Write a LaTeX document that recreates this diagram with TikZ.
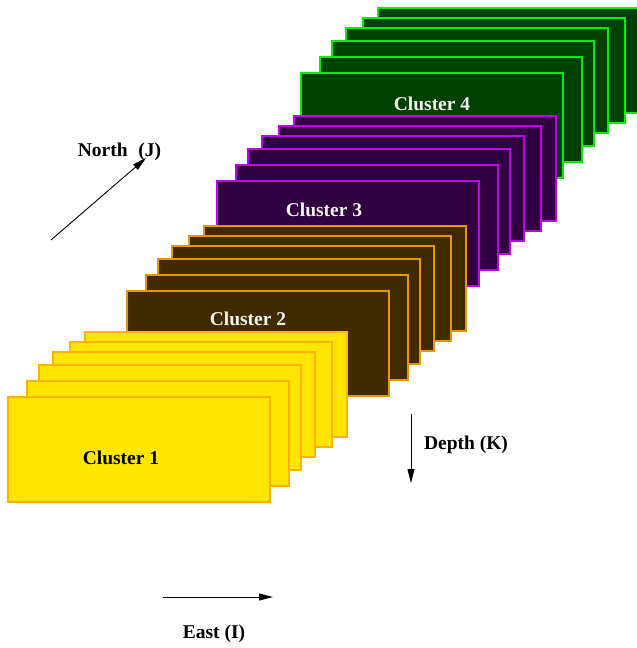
\documentclass[tikz,border=0pt]{standalone}
\usepackage{fontspec}
\setmainfont{Liberation Serif}
\usetikzlibrary{arrows.meta}
\definecolor{c1fill}{RGB}{255,230,0}
\definecolor{c1line}{RGB}{255,178,0}
\definecolor{c2fill}{RGB}{64,42,0}
\definecolor{c2line}{RGB}{235,150,0}
\definecolor{c3fill}{RGB}{48,0,64}
\definecolor{c3line}{RGB}{190,0,240}
\definecolor{c4fill}{RGB}{0,64,0}
\definecolor{c4line}{RGB}{0,240,0}
\definecolor{lbllight}{RGB}{245,245,240}

\begin{document}
\begin{tikzpicture}[x=1pt,y=-1pt,
  sheet/.style={draw, line width=1.5pt, minimum width=262pt, minimum height=105pt,
                anchor=north west, inner sep=0pt, outer sep=0pt},
  lbl/.style={font=\fontsize{19.5}{22}\selectfont\bfseries, inner sep=0pt},
  axis/.style={line width=0.9pt, -{Triangle[length=14pt,width=7pt]}}]
\useasboundingbox (0,0) rectangle (637,648);

% one stack of six sheets per cluster, back sheet first
\begin{scope}
\clip (0,0) rectangle (637,648);
\foreach \cl/\ox/\oy in {4/301/73, 3/217/181, 2/127/291, 1/8/397}{
  \foreach \dx/\dy [count=\k] in {77/-65,62/-55,45/-45,31/-32,19/-16,0/0}{
    \node[sheet, draw=c\cl line, fill=c\cl fill] (c\cl s\k) at ({\ox+\dx},{\oy+\dy}) {};
  }
}
\end{scope}

% cluster names
\node[lbl, text=lbllight] (n4) at (432,104) {Cluster 4};
\node[lbl, text=lbllight] (n3) at (324,210) {Cluster 3};
\node[lbl, text=lbllight] (n2) at (248,319) {Cluster 2};
\node[lbl, text=black]    (n1) at (121,458) {Cluster 1};

% index directions
\coordinate (ns) at (51,240);
\coordinate (ne) at (146,158);
\draw[axis] (ns) -- (ne);
\node[lbl] (north) at (119.5,152) {North\hspace{0.55em}(J)};

\coordinate (es) at (163,597);
\coordinate (ee) at (273,597);
\draw[axis] (es) -- (ee);
\node[lbl] (east) at (214,634) {East (I)};

\coordinate (ds) at (411,414);
\coordinate (de) at (411,483);
\draw[axis] (ds) -- (de);
\node[lbl] (depth) at (466,445) {Depth (K)};
\end{tikzpicture}
\end{document}
